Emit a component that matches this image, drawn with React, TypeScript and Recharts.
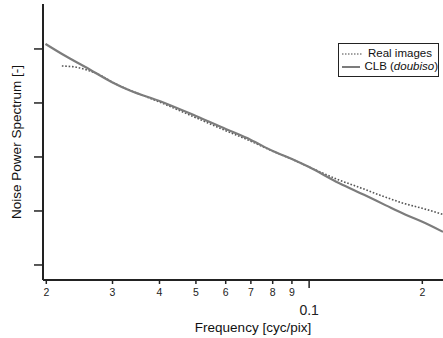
import { LineChart, Line, XAxis, YAxis, Label } from "recharts"

// frequency [cyc/pix] and NPS for the two curves
const clbFreq = [0.0199, 0.0225, 0.0254, 0.03, 0.0335, 0.04, 0.05, 0.06, 0.07, 0.08, 0.09, 0.1, 0.12, 0.14, 0.16, 0.18, 0.2, 0.227]
const clbNps = [12400, 7400, 4650, 2400, 1680, 1090, 574, 330, 207, 129, 92, 65, 33, 19.9, 12.7, 8.6, 6.3, 4.1]

const realFreq = [0.022, 0.024, 0.026, 0.028, 0.03, 0.035, 0.04, 0.05, 0.06, 0.07, 0.08, 0.09, 0.1, 0.12, 0.14, 0.16, 0.18, 0.2, 0.227]
const realNps = [4840, 4600, 3960, 3200, 2420, 1500, 1040, 533, 307, 196, 128, 91, 65, 37.6, 25.4, 17.9, 13.6, 11.2, 8.6]

const xTicks = [0.02, 0.03, 0.04, 0.05, 0.06, 0.07, 0.08, 0.09, 0.1, 0.2]
const xTickLabels = ["2", "3", "4", "5", "6", "7", "8", "9", "0.1", "2"]
const yTicks = [1, 10, 100, 1000, 10000]

const clbData = clbFreq.map((f, i) => ({ f, v: clbNps[i] }))
const realData = realFreq.map((f, i) => ({ f, v: realNps[i] }))

const FONT = "'Liberation Sans', Arial, sans-serif"
const GRAY = "#7c7c7c"

function FreqTick({ x, y, payload }: any) {
  const i = xTicks.indexOf(payload.value)
  const major = payload.value === 0.1
  return (
    <g>
      <line x1={x} x2={x} y1={y} y2={y + (major ? 8 : 4)} stroke="#222" strokeWidth={1.5} />
      {major ? (
        <text x={x} y={y + 35} textAnchor="middle" fontSize={14} fontFamily={FONT} fill="#222">
          0.1
        </text>
      ) : (
        <text x={x} y={y + 16} textAnchor="middle" fontSize={10.5} fontFamily={FONT} fill="#222">
          {xTickLabels[i]}
        </text>
      )}
    </g>
  )
}

function ChartLegend() {
  return (
    <div
      style={{
        position: "absolute",
        left: 338,
        top: 43,
        width: 101,
        height: 34,
        border: "1.5px solid #222",
        background: "#fff",
        padding: "3px 0 0 3px",
        fontFamily: FONT,
        fontSize: 11.5,
        lineHeight: "13px",
        color: "#111",
        boxSizing: "border-box",
        whiteSpace: "nowrap",
      }}
    >
      <div style={{ display: "flex", alignItems: "center" }}>
        <svg width={22} height={6}>
          <line x1={0} x2={21} y1={3} y2={3} stroke="#444" strokeWidth={1} strokeDasharray="1.5 1.5" />
        </svg>
        <span style={{ marginLeft: 4 }}>Real images</span>
      </div>
      <div style={{ display: "flex", alignItems: "center" }}>
        <svg width={22} height={6}>
          <line x1={0} x2={21} y1={3} y2={3} stroke={GRAY} strokeWidth={2} />
        </svg>
        <span style={{ marginLeft: 4 }}>
          CLB (<i>doubiso</i>)
        </span>
      </div>
    </div>
  )
}

export default function App() {
  return (
    <div style={{ position: "absolute", left: 0, top: 0, width: 443, height: 338, background: "#fff" }}>
      <LineChart width={443} height={338} margin={{ top: 4, right: 0, bottom: 0, left: 0 }}>
        <XAxis
          dataKey="f"
          type="number"
          scale="log"
          domain={[0.0196, 0.227]}
          allowDataOverflow
          ticks={xTicks}
          interval={0}
          tick={<FreqTick />}
          tickLine={false}
          tickSize={0}
          tickMargin={0}
          height={58}
          axisLine={{ stroke: "#222", strokeWidth: 2 }}
        >
          <Label
            value="Frequency [cyc/pix]"
            position="insideBottom"
            offset={6}
            dx={10}
            style={{ fontFamily: FONT, fontSize: 13.5, fill: "#111" }}
          />
        </XAxis>
        <YAxis
          dataKey="v"
          type="number"
          scale="log"
          domain={[0.527, 68000]}
          allowDataOverflow
          ticks={yTicks}
          interval={0}
          width={43}
          tickSize={9}
          tick={<g />}
          tickLine={{ stroke: "#222", strokeWidth: 1.5 }}
          axisLine={{ stroke: "#222", strokeWidth: 2 }}
        >
          <Label
            value="Noise Power Spectrum [-]"
            angle={-90}
            position="insideLeft"
            offset={16}
            style={{ fontFamily: FONT, fontSize: 13.5, fill: "#111", textAnchor: "middle" }}
          />
        </YAxis>
        <Line
          data={realData}
          dataKey="v"
          type="monotone"
          stroke="#555"
          strokeWidth={1.6}
          strokeDasharray="1.6 1.8"
          dot={false}
          isAnimationActive={false}
        />
        <Line
          data={clbData}
          dataKey="v"
          type="monotone"
          stroke={GRAY}
          strokeWidth={2.2}
          dot={false}
          isAnimationActive={false}
        />
      </LineChart>
      <ChartLegend />
    </div>
  )
}
